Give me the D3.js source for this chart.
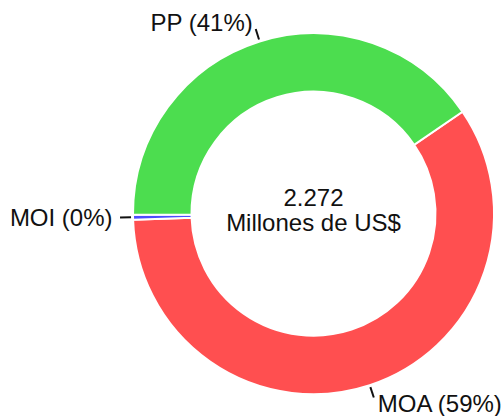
<!DOCTYPE html>
<html>
<head>
<meta charset="utf-8">
<script src="https://cdn.jsdelivr.net/npm/d3@7"></script>
<style>
  body { margin: 0; background: #fff; }
  text { font-family: "Liberation Sans", Arial, sans-serif; fill: #111; }
</style>
</head>
<body>
<div class="chart"></div>
<script>
// data (millones de US$)
const categories = ["MOA", "MOI", "PP"];
const values = [1.341, 0.010, 0.921];
const colors = ["#ff4f50", "#4c4cff", "#4cdd4f"];
const centerLabel = "Millones de US$";

// svg container size
const width = 502,
      height = 416;

const cx = 313.5,
      cy = 213.7,
      outerR = 180.5,
      innerR = 122;

const svg = d3.select(".chart")
  .append("svg")
  .attr("width", width)
  .attr("height", height);

const g = svg.append("g")
  .attr("transform", `translate(${cx},${cy})`);

const total = d3.sum(values);

const data = categories.map((c, i) => ({ name: c, value: values[i], color: colors[i] }));

// pie layout, keeps the given order
const pie = d3.pie()
  .sort(null)
  .value(d => d.value)
  .startAngle(55.6 * Math.PI / 180)
  .endAngle(55.6 * Math.PI / 180 + 2 * Math.PI);

const arcs = pie(data);

const arc = d3.arc()
  .innerRadius(innerR)
  .outerRadius(outerR);

g.selectAll("path.slice")
  .data(arcs)
  .enter()
    .append("path")
    .attr("class", "slice")
    .attr("d", arc)
    .attr("fill", d => d.data.color)
    .attr("stroke", "#fff")
    .attr("stroke-width", 2);

// leader ticks
const mid = d => (d.startAngle + d.endAngle) / 2;
const polar = (a, r) => [r * Math.sin(a), -r * Math.cos(a)];

g.selectAll("line.tick")
  .data(arcs)
  .enter()
    .append("line")
    .attr("class", "tick")
    .attr("x1", d => polar(mid(d), outerR + 2)[0])
    .attr("y1", d => polar(mid(d), outerR + 2)[1])
    .attr("x2", d => polar(mid(d), outerR + 13)[0])
    .attr("y2", d => polar(mid(d), outerR + 13)[1])
    .attr("stroke", "#111")
    .attr("stroke-width", 2);

// labels
const pct = d3.format(".0%");

g.selectAll("text.label")
  .data(arcs)
  .enter()
    .append("text")
    .attr("class", "label")
    .attr("x", d => polar(mid(d), 200)[0] + (Math.sin(mid(d)) < 0 ? -1 : 2))
    .attr("y", d => polar(mid(d), 200)[1])
    .attr("dy", "0.35em")
    .attr("text-anchor", d => Math.sin(mid(d)) < 0 ? "end" : "start")
    .style("font-size", "24px")
    .text(d => `${d.data.name} (${pct(d.data.value / total)})`);

// center text
g.append("text")
  .attr("text-anchor", "middle")
  .attr("y", -8)
  .style("font-size", "24px")
  .text(d3.format(".3f")(total));

g.append("text")
  .attr("text-anchor", "middle")
  .attr("y", 17.3)
  .style("font-size", "24px")
  .text(centerLabel);
</script>
</body>
</html>
